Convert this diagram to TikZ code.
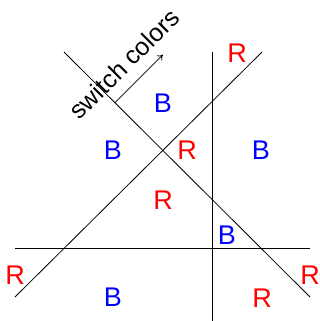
\documentclass[tikz,border=0pt]{standalone}
\usepackage{fontspec}
\setmainfont{Liberation Sans}
\usetikzlibrary{arrows.meta, positioning, calc}

\begin{document}
\begin{tikzpicture}[x=1pt, y=-1pt,
	font=\fontsize{27}{31}\selectfont,
	ln/.style={black, line width=0.8pt},
	rlab/.style={text=red, inner sep=0pt},
	blab/.style={text=blue, inner sep=0pt},
	sw/.style={-{To[length=5pt, width=7pt]}, black, line width=0.8pt}]

	\useasboundingbox (0,0) rectangle (320,321);

	% the four lines
	\coordinate (a1) at (64,52);   \coordinate (a2) at (310,297);
	\coordinate (b1) at (15,297);  \coordinate (b2) at (262,52);
	\coordinate (v1) at (212,52);  \coordinate (v2) at (212,321);
	\coordinate (h1) at (15,248);  \coordinate (h2) at (310,248);

	\draw[ln] (a1) -- (a2);
	\draw[ln] (b1) -- (b2);
	\draw[ln] (v1) -- (v2);
	\draw[ln] (h1) -- (h2);

	% switch arrow
	\coordinate (s0) at ($(a1)!0.207!(a2)$);
	\coordinate (s1) at ($(s0)+(48,-48)$);
	\draw[sw] (s0) -- (s1);
	\node[rotate=45, inner sep=0pt, font=\fontsize{25}{29}\selectfont] (swl) at (124,64) {switch colors};

	% region labels
	\node[blab] (bt) at (163,103) {B};
	\node[blab] (bl) at (113,150) {B};
	\node[rlab] (rc) at (187,150) {R};
	\node[blab] (br) at (261,150) {B};
	\node[rlab] (rm) at (163,200) {R};
	\node[blab] (bs) at (227,235) {B};
	\node[rlab] (rt) at (237,53) {R};
	\node[rlab] (rl) at (15,275) {R};
	\node[blab] (bb) at (113,297) {B};
	\node[rlab] (rb) at (262,298) {R};
	\node[rlab] (rr) at (310,275) {R};
\end{tikzpicture}
\end{document}
